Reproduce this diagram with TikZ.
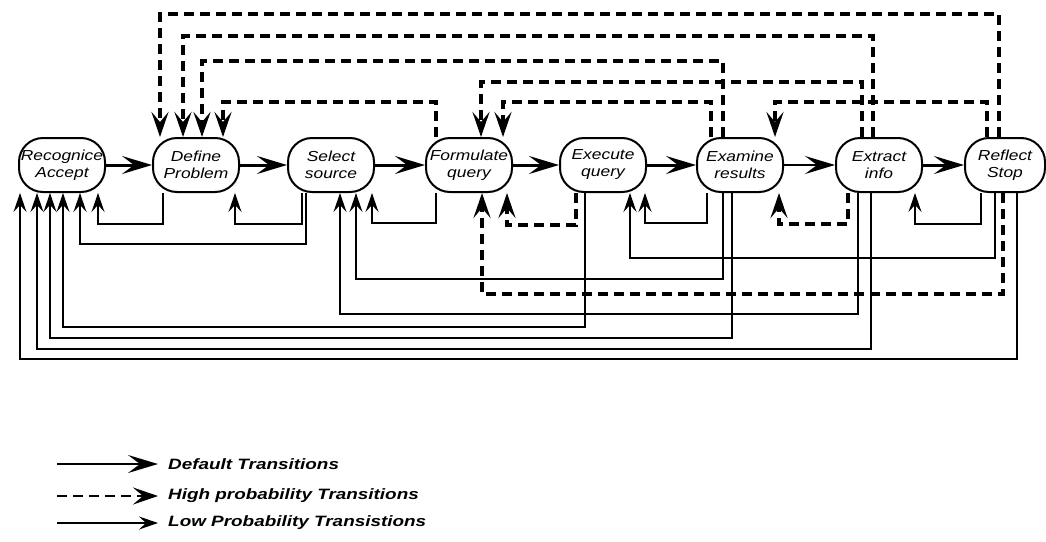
\documentclass[tikz,border=0pt]{standalone}
\usepackage{fontspec}
\usetikzlibrary{arrows.meta}
\newfontfamily\diagfont[FakeStretch=1.2]{Liberation Sans}
\newfontfamily\legfont[FakeStretch=1.26]{Liberation Sans}

\tikzset{
  state/.style={draw, line width=2pt, rounded corners=24pt, minimum width=86pt,
    minimum height=54pt, inner sep=0pt, align=center,
    font=\diagfont\itshape\fontsize{14.5}{17}\selectfont},
  dflt/.style={line width=3pt, -{Stealth[length=30pt,width=18pt,inset=12pt]}},
  high/.style={line width=3.4pt, dash pattern=on 10pt off 6pt,
    -{Stealth[length=25pt,width=17pt,inset=10pt]}},
  low/.style={line width=1.5pt, -{Stealth[length=19pt,width=13pt,inset=7pt]}},
  legtext/.style={anchor=west, inner sep=0pt,
    font=\legfont\bfseries\itshape\fontsize{15}{18}\selectfont},
}

\begin{document}
\begin{tikzpicture}[x=1pt, y=-1pt]
\useasboundingbox[fill=white] (0,0) rectangle (1046,541);

% states
\node[state] (rec)  at (62,165)  {Recognice\\Accept};
\node[state] (def)  at (196,165) {Define\\Problem};
\node[state] (sel)  at (331,165) {Select\\source};
\node[state] (form) at (469,165) {Formulate\\query};
\node[state] (exe)  at (603,165) {Execute\\query};
\node[state] (exam) at (740,165) {Examine\\results};
\node[state] (extr) at (879,165) {Extract\\info};
\node[state, minimum width=80pt] (refl) at (1005,165) {Reflect\\Stop};

% default transitions
\draw[dflt] (rec) -- (def);
\draw[dflt] (def) -- (sel);
\draw[dflt] (sel) -- (form);
\draw[dflt] (form) -- (exe);
\draw[dflt] (exe) -- (exam);
\draw[dflt, line width=1.8pt] (exam) -- (extr);
\draw[dflt] (extr) -- (refl);

% high probability transitions, routed above
\draw[high] ([xshift=-6pt]refl.north)  -- ++(0,-123) -| ([xshift=-36pt]def.north);
\draw[high] ([xshift=-6pt]extr.north)  -- ++(0,-101) -| ([xshift=-13pt]def.north);
\draw[high] ([xshift=-17pt]exam.north) -- ++(0,-76)  -| ([xshift=6pt]def.north);
\draw[high] ([xshift=-33pt]form.north) -- ++(0,-35)  -| ([xshift=27pt]def.north);
\draw[high] ([xshift=-17pt]extr.north) -- ++(0,-55)  -| ([xshift=12pt]form.north);
\draw[high] ([xshift=-29pt]exam.north) -- ++(0,-35)  -| ([xshift=34pt]form.north);
\draw[high] ([xshift=-18pt]refl.north) -- ++(0,-35)  -| ([xshift=35pt]exam.north);

% high probability transitions, routed below
\draw[high] ([xshift=-27pt]exe.south)  -- ++(0,32)  -| ([xshift=38pt]form.south);
\draw[high] ([xshift=-31pt]extr.south) -- ++(0,31)  -| ([xshift=39pt]exam.south);
\draw[high] ([xshift=-2pt]refl.south)  -- ++(0,101) -| ([xshift=13pt]form.south);

% low probability transitions
\draw[low] ([xshift=-33pt]def.south)  -- ++(0,31)  -| ([xshift=36pt]rec.south);
\draw[low] ([xshift=-29pt]sel.south)  -- ++(0,31)  -| ([xshift=39pt]def.south);
\draw[low] ([xshift=-25pt]sel.south)  -- ++(0,51)  -| ([xshift=18pt]rec.south);
\draw[low] ([xshift=-33pt]form.south) -- ++(0,30)  -| ([xshift=41pt]sel.south);
\draw[low] ([xshift=-17pt]exam.south) -- ++(0,86)  -| ([xshift=25pt]sel.south);
\draw[low] ([xshift=-21pt]extr.south) -- ++(0,121) -| ([xshift=9pt]sel.south);
\draw[low] ([xshift=-18pt]exe.south)  -- ++(0,134) -| ([xshift=1pt]rec.south);
\draw[low] ([xshift=-8pt]exam.south)  -- ++(0,145) -| ([xshift=-12pt]rec.south);
\draw[low] ([xshift=-8pt]extr.south)  -- ++(0,156) -| ([xshift=-25pt]rec.south);
\draw[low] ([xshift=12pt]refl.south)  -- ++(0,166) -| ([xshift=-42pt]rec.south);
\draw[low] ([xshift=-33pt]exam.south) -- ++(0,30)  -| ([xshift=42pt]exe.south);
\draw[low] ([xshift=-10pt]refl.south) -- ++(0,65)  -| ([xshift=27pt]exe.south);
\draw[low] ([xshift=-24pt]refl.south) -- ++(0,31)  -| ([xshift=36pt]extr.south);

% legend
\node[legtext] (lgd) at (168,464) {Default Transitions};
\node[legtext] (lgh) at (168,496) {High probability Transitions};
\node[legtext] (lgl) at (168,523) {Low Probability Transistions};
\coordinate (lgds) at (57,464);
\coordinate (lghs) at (57,496);
\coordinate (lgls) at (57,523);
\draw[dflt, line width=2.4pt] (lgds) -- ([xshift=-10pt]lgd.west);
\draw[high, line width=2.8pt] (lghs) -- ([xshift=-10pt]lgh.west);
\draw[low] (lgls) -- ([xshift=-10pt]lgl.west);
\end{tikzpicture}
\end{document}
